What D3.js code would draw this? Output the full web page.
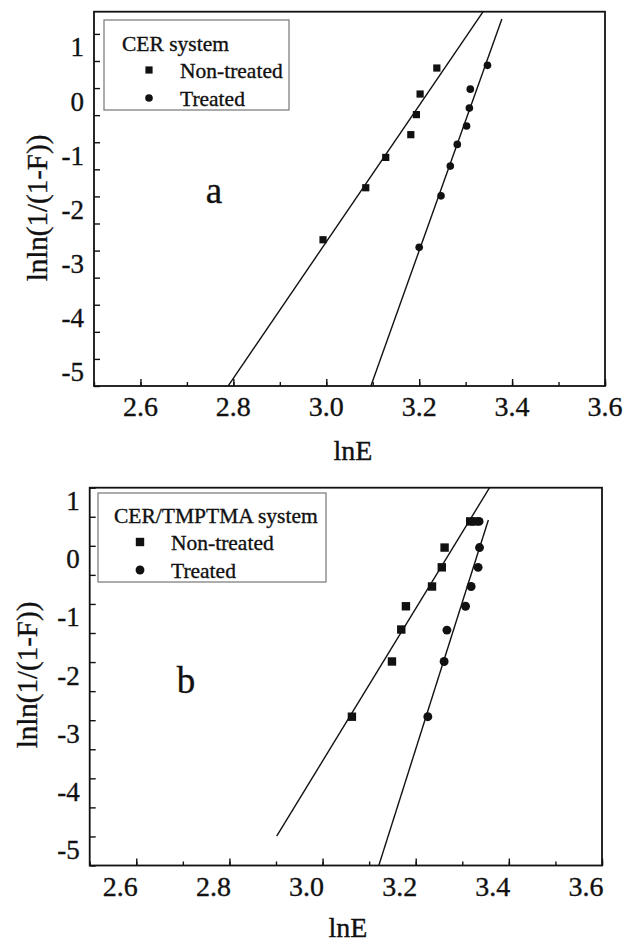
<!DOCTYPE html>
<html>
<head>
<meta charset="utf-8">
<script src="https://cdn.jsdelivr.net/npm/d3@7"></script>
<style>
  html, body { margin: 0; padding: 0; background: #fff; }
  svg { display: block; }
  text { font-family: "Liberation Serif", "Tinos", "Times New Roman", "DejaVu Serif", serif;
         fill: #111; stroke: #111; stroke-width: 0.35px; }
</style>
</head>
<body>
<svg id="chart" width="623" height="945"></svg>
<script>
// ---- Panel a: CER system ----
const aNonTreatedX = [2.993, 3.085, 3.128, 3.182, 3.194, 3.202, 3.238];
const aNonTreatedY = [-2.80, -1.84, -1.28, -0.86, -0.49, -0.11, 0.37];
const aTreatedX    = [3.200, 3.247, 3.267, 3.282, 3.302, 3.308, 3.310, 3.347];
const aTreatedY    = [-2.94, -1.99, -1.44, -1.04, -0.70, -0.37, -0.02, 0.42];
// lnE span of each fitted line
const aNonTreatedFitSpan = [2.78, 3.34];
const aTreatedFitSpan    = [3.09, 3.378];

// ---- Panel b: CER/TMPTMA system ----
const bNonTreatedX = [3.063, 3.149, 3.169, 3.179, 3.235, 3.256, 3.262, 3.317, 3.326];
const bNonTreatedY = [-2.94, -1.99, -1.44, -1.04, -0.70, -0.37, -0.03, 0.42, 0.42];
const bTreatedX    = [3.226, 3.261, 3.267, 3.307, 3.319, 3.334, 3.337, 3.336];
const bTreatedY    = [-2.94, -1.99, -1.45, -1.04, -0.70, -0.37, -0.03, 0.42];
const bNonTreatedFitSpan = [2.9015, 3.36];
const bTreatedFitSpan    = [3.11, 3.356];

// ---- Axis labels ----
const xTickValues = [2.6, 2.8, 3.0, 3.2, 3.4, 3.6];
const xTickLabels = ["2.6", "2.8", "3.0", "3.2", "3.4", "3.6"];
const yTickValues = [1, 0, -1, -2, -3, -4, -5];
const yTickLabels = ["1", "0", "-1", "-2", "-3", "-4", "-5"];
const seriesNames = ["Non-treated", "Treated"];

const FONT = '"Liberation Serif", "Tinos", "Times New Roman", "DejaVu Serif", serif';
const svg = d3.select("#chart").attr("font-family", FONT);

// Least-squares line through a series
function leastSquares(xs, ys) {
  const mx = d3.mean(xs), my = d3.mean(ys);
  let sxy = 0, sxx = 0;
  xs.forEach((x, i) => { sxy += (x - mx) * (ys[i] - my); sxx += (x - mx) * (x - mx); });
  const slope = sxy / sxx;
  return x => my + slope * (x - mx);
}

function drawPanel(cfg) {
  const g = svg.append("g");
  const x = d3.scaleLinear().domain([2.5, 3.6]).range([cfg.left, cfg.right]);
  const y = d3.scaleLinear().domain(cfg.yDomain).range([cfg.bottom, cfg.top]);

  const clipId = "clip-" + cfg.id;
  svg.append("defs").append("clipPath").attr("id", clipId)
    .append("rect")
    .attr("x", cfg.left).attr("y", cfg.top)
    .attr("width", cfg.right - cfg.left).attr("height", cfg.bottom - cfg.top);

  // inward tick marks: x minor every 0.1, major at labelled values; y every 0.5
  const xMinor = d3.range(2.5, 3.61, 0.1).map(v => +v.toFixed(2));
  g.append("g").attr("transform", `translate(0,${cfg.bottom})`)
    .call(d3.axisBottom(x).tickValues(xMinor).tickSize(-4).tickFormat(""))
    .call(s => s.select(".domain").remove());
  g.append("g").attr("transform", `translate(0,${cfg.bottom})`)
    .call(d3.axisBottom(x).tickValues(xTickValues).tickSize(-7).tickFormat(""))
    .call(s => s.select(".domain").remove());

  const yAll = d3.range(-5.5, cfg.yDomain[1] + 0.01, 0.5);
  g.append("g").attr("transform", `translate(${cfg.left},0)`)
    .call(d3.axisLeft(y).tickValues(yAll).tickSize(-6).tickFormat(""))
    .call(s => s.select(".domain").remove());
  g.selectAll(".tick line").attr("stroke", "#111").attr("stroke-width", 1.4);

  // frame
  g.append("rect")
    .attr("x", cfg.left).attr("y", cfg.top)
    .attr("width", cfg.right - cfg.left).attr("height", cfg.bottom - cfg.top)
    .attr("fill", "none").attr("stroke", "#111").attr("stroke-width", 1.8);

  // tick labels
  g.selectAll(".xlab").data(xTickValues).join("text")
    .attr("x", d => x(d) + cfg.xLabelDx)
    .attr("y", cfg.bottom + cfg.xLabelGap)
    .attr("dy", "0.35em")
    .attr("text-anchor", "middle")
    .attr("font-size", 28)
    .text((d, i) => xTickLabels[i]);
  g.selectAll(".ylab").data(yTickValues).join("text")
    .attr("x", cfg.left - 10)
    .attr("y", d => y(d) + cfg.yLabelDy)
    .attr("dy", "0.35em")
    .attr("text-anchor", "end")
    .attr("font-size", 27)
    .text((d, i) => yTickLabels[i]);

  // axis titles
  g.append("text")
    .attr("x", cfg.xTitle[0]).attr("y", cfg.xTitle[1])
    .attr("dy", "0.35em").attr("text-anchor", "middle")
    .attr("font-size", 28).text("lnE");
  g.append("text")
    .attr("transform", `translate(${cfg.yTitle[0]},${cfg.yTitle[1]}) rotate(-90)`)
    .attr("dominant-baseline", "central").attr("text-anchor", "middle")
    .attr("font-size", 29).text("lnln(1/(1-F))");

  // fitted lines
  const plot = g.append("g").attr("clip-path", `url(#${clipId})`);
  const line = d3.line().x(d => x(d[0])).y(d => y(d[1]));
  [[cfg.ntX, cfg.ntY, cfg.ntSpan], [cfg.tX, cfg.tY, cfg.tSpan]].forEach(([xs, ys, span]) => {
    const f = leastSquares(xs, ys);
    plot.append("path")
      .attr("d", line(span.map(v => [v, f(v)])))
      .attr("fill", "none").attr("stroke", "#111").attr("stroke-width", 1.4);
  });

  // markers
  const sq = cfg.markerSize;
  plot.selectAll(".sq").data(cfg.ntX).join("rect")
    .attr("x", (d) => x(d) - sq / 2)
    .attr("y", (d, i) => y(cfg.ntY[i]) - sq / 2)
    .attr("width", sq).attr("height", sq).attr("fill", "#111");
  plot.selectAll(".ci").data(cfg.tX).join("circle")
    .attr("cx", d => x(d))
    .attr("cy", (d, i) => y(cfg.tY[i]))
    .attr("r", sq * 0.53).attr("fill", "#111");

  // panel letter
  g.append("text")
    .attr("x", cfg.letterPos[0]).attr("y", cfg.letterPos[1])
    .attr("text-anchor", "middle").attr("font-size", 37).text(cfg.letter);

  // legend
  const L = cfg.legend;
  g.append("rect")
    .attr("x", L.x).attr("y", L.y).attr("width", L.w).attr("height", L.h)
    .attr("fill", "#fff").attr("stroke", "#808080").attr("stroke-width", 1.3);
  g.append("text").attr("x", L.titleX).attr("y", L.rows[0]).attr("dy", "0.35em")
    .attr("font-size", 21.5).text(cfg.title);
  g.append("rect")
    .attr("x", L.markX - sq / 2).attr("y", L.rows[1] - sq / 2)
    .attr("width", sq).attr("height", sq).attr("fill", "#111");
  g.append("circle").attr("cx", L.markX).attr("cy", L.rows[2]).attr("r", sq * 0.53).attr("fill", "#111");
  seriesNames.forEach((name, i) => {
    g.append("text").attr("x", L.textX).attr("y", L.rows[i + 1]).attr("dy", "0.35em")
      .attr("font-size", 21.5).text(name);
  });
}

drawPanel({
  id: "a", letter: "a", title: "CER system",
  left: 94, right: 605, top: 11.7, bottom: 386,
  yDomain: [-5.5, 1.41],
  xLabelDx: 0, xLabelGap: 20, yLabelDy: 13,
  xTitle: [353, 450], yTitle: [37, 208],
  ntX: aNonTreatedX, ntY: aNonTreatedY, ntSpan: aNonTreatedFitSpan,
  tX: aTreatedX, tY: aTreatedY, tSpan: aTreatedFitSpan,
  markerSize: 7.2,
  letterPos: [214, 203],
  legend: { x: 104, y: 20, w: 185, h: 90, titleX: 122, markX: 149, textX: 180, rows: [43, 70, 98] }
});

drawPanel({
  id: "b", letter: "b", title: "CER/TMPTMA system",
  left: 89.7, right: 602, top: 487.7, bottom: 865.5,
  yDomain: [-5.5, 1.0],
  xLabelDx: -16, xLabelGap: 21, yLabelDy: 13,
  xTitle: [348, 927], yTitle: [27, 675],
  ntX: bNonTreatedX, ntY: bNonTreatedY, ntSpan: bNonTreatedFitSpan,
  tX: bTreatedX, tY: bTreatedY, tSpan: bTreatedFitSpan,
  markerSize: 8.4,
  letterPos: [186, 693],
  legend: { x: 98, y: 493, w: 228, h: 89, titleX: 114, markX: 140, textX: 171, rows: [515, 542, 570] }
});
</script>
</body>
</html>
